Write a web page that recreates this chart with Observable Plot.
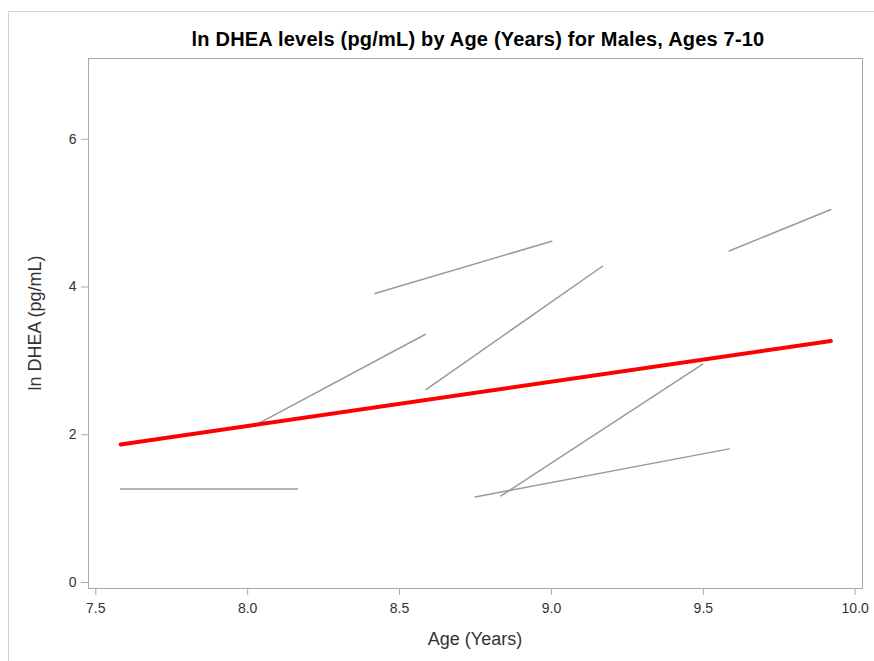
<!DOCTYPE html>
<html><head><meta charset="utf-8">
<script src="https://cdn.jsdelivr.net/npm/d3@7"></script>
<script src="https://cdn.jsdelivr.net/npm/@observablehq/plot@0.6"></script>
<style>
body{margin:0;overflow:hidden;background:#fff;font-family:"Liberation Sans",Arial,sans-serif;}
#wrap{position:relative;width:874px;height:661px;overflow:hidden;}
#border{position:absolute;left:8px;top:11px;width:900px;height:700px;border:1px solid #d3d3d3;}
#title{position:absolute;top:28px;left:0;width:956px;text-align:center;font-weight:bold;font-size:20px;letter-spacing:0.2px;line-height:23px;color:#000;white-space:nowrap;}
#xlabel{position:absolute;top:629px;left:0;width:950px;text-align:center;font-size:18px;line-height:21px;color:#333;white-space:nowrap;}
#ylabel{position:absolute;left:35px;top:323px;transform:translate(-50%,-50%) rotate(-90deg);font-size:18px;line-height:21px;color:#333;white-space:nowrap;}
#chart{position:absolute;left:0;top:0;}
</style></head><body>
<div id="wrap">
<div id="border"></div>
<div id="chart"></div>
<div id="title">ln DHEA levels (pg/mL) by Age (Years) for Males, Ages 7-10</div>
<div id="xlabel">Age (Years)</div>
<div id="ylabel">ln DHEA (pg/mL)</div>
</div>
<script>
// Individual subject trajectories (two visits each)
const subjects = ["S1","S2","S3","S4","S5","S6","S7"];
const startAge = [7.582, 8.027, 8.419, 8.587, 8.749, 8.834, 9.585];
const endAge   = [8.164, 8.584, 9.001, 9.168, 9.585, 9.498, 9.920];
const startLn  = [1.267, 2.135, 3.912, 2.612, 1.159, 1.173, 4.488];
const endLn    = [1.267, 3.357, 4.620, 4.281, 1.809, 2.955, 5.049];
// Fitted average trend
const fitAge = [7.582, 9.920];
const fitLn  = [1.868, 3.270];
// Axis ticks
const xTicks = [7.5, 8.0, 8.5, 9.0, 9.5, 10.0];
const yTicks = [0, 2, 4, 6];

const subjRows = [];
subjects.forEach((s, i) => {
  subjRows.push({id: s, age: startAge[i], ln: startLn[i]});
  subjRows.push({id: s, age: endAge[i], ln: endLn[i]});
});
const fitRows = fitAge.map((a, i) => ({age: a, ln: fitLn[i]}));

const chart = Plot.plot({
  width: 874,
  height: 661,
  marginLeft: 88,
  marginRight: 12,
  marginTop: 58,
  marginBottom: 73,
  style: {fontFamily: '"Liberation Sans", Arial, sans-serif', color: "#333", background: "transparent"},
  x: {domain: [7.476, 10.024]},
  y: {domain: [-0.081, 7.093]},
  marks: [
    Plot.frame({stroke: "#a8a8a8"}),
    Plot.axisX(xTicks, {tickSize: 7, tickPadding: 8, fontSize: 14, stroke: "#a8a8a8", fill: "#333", tickFormat: d3.format(".1f"), label: null}),
    Plot.axisY(yTicks, {tickSize: 7, tickPadding: 5, fontSize: 14, stroke: "#a8a8a8", fill: "#333", tickFormat: d3.format("d"), label: null}),
    Plot.line(subjRows, {x: "age", y: "ln", z: "id", stroke: "#9a9a9a", strokeWidth: 1.5}),
    Plot.line(fitRows, {x: "age", y: "ln", stroke: "#ff0000", strokeWidth: 4})
  ]
});
document.getElementById("chart").appendChild(chart);
</script>
</body></html>
